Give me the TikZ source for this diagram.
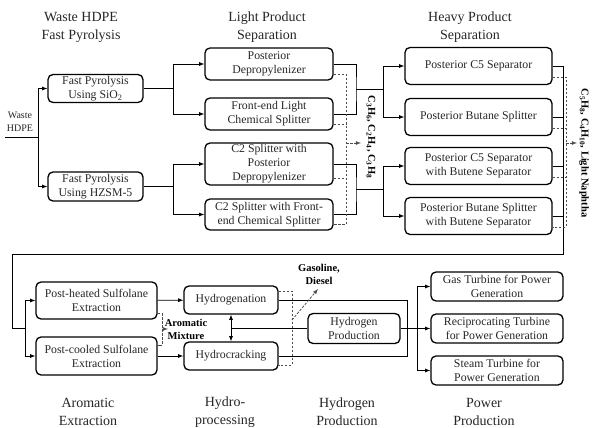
\documentclass[tikz,border=0pt]{standalone}
\usepackage{fontspec}
\setmainfont{Liberation Serif}
\usepackage[]{xcolor}

\begin{document}
\begin{tikzpicture}[
            x=1pt, y=-1pt,
            unit/.style={rectangle, draw, line width=1.3pt, rounded corners=5pt, inner sep=0pt, align=center, text=black!85, font=\fontsize{11.8}{14}\selectfont},
            stage/.style={align=center, text=black!85, font=\fontsize{14}{18}\selectfont},
            tag/.style={align=center, font=\fontsize{10.5}{13}\selectfont\bfseries},
            flow/.style={line width=0.8pt},
            arrow/.style={-latex, line width=0.8pt},
            gas/.style={dash pattern=on 2.5pt off 1.5pt, line width=0.8pt, black!70},
            gasarrow/.style={gas, -latex}
        ]
            \useasboundingbox (0,0) rectangle (592,428);

            % stage titles
            \node[stage] (t1) at (81,27) {Waste HDPE\\Fast Pyrolysis};
            \node[stage] (t2) at (267,27) {Light Product\\Separation};
            \node[stage] (t3) at (470,27) {Heavy Product\\Separation};
            \node[stage] (t4) at (88,412) {Aromatic\\Extraction};
            \node[stage] (t5) at (225,412) {Hydro-\\processing};
            \node[stage] (t6) at (347,412) {Hydrogen\\Production};
            \node[stage] (t7) at (484,412) {Power\\Production};

            % pyrolysis
            \node[align=center, text=black!85, font=\fontsize{10}{13}\selectfont] (feedlbl) at (20,122) {Waste\\HDPE};
            \node[unit, minimum width=95pt, minimum height=28pt] (sio) at (95.5,88.5) {Fast Pyrolysis\\Using SiO\textsubscript{2}};
            \node[unit, minimum width=95pt, minimum height=29pt] (hzsm) at (95.5,186.5) {Fast Pyrolysis\\Using HZSM-5};

            % light product separation
            \node[unit, minimum width=128pt, minimum height=32pt] (dep) at (269,64) {Posterior\\Depropylenizer};
            \node[unit, minimum width=128pt, minimum height=32pt] (fels) at (269,114) {Front-end Light\\Chemical Splitter};
            \node[unit, minimum width=128pt, minimum height=42pt] (cpd) at (269,164) {C2 Splitter with\\Posterior\\Depropylenizer};
            \node[unit, minimum width=128pt, minimum height=31pt] (cfe) at (269,214.5) {C2 Splitter with Front-\\end Chemical Splitter};

            % heavy product separation
            \node[unit, minimum width=147pt, minimum height=37pt] (pc) at (478.5,66) {Posterior C5 Separator};
            \node[unit, minimum width=147pt, minimum height=37pt] (pb) at (478.5,117) {Posterior Butane Splitter};
            \node[unit, minimum width=147pt, minimum height=37pt] (pcb) at (478.5,166) {Posterior C5 Separator\\with Butene Separator};
            \node[unit, minimum width=147pt, minimum height=37pt] (pbb) at (478.5,216) {Posterior Butane Splitter\\with Butene Separator};

            % aromatic extraction
            \node[unit, minimum width=121pt, minimum height=37pt] (phs) at (96.5,300.5) {Post-heated Sulfolane\\Extraction};
            \node[unit, minimum width=121pt, minimum height=38pt] (pcs) at (96.5,356) {Post-cooled Sulfolane\\Extraction};

            % hydroprocessing
            \node[unit, minimum width=94pt, minimum height=28pt] (hgn) at (231,300) {Hydrogenation};
            \node[unit, minimum width=94pt, minimum height=28pt] (hck) at (231,356) {Hydrocracking};

            % hydrogen and power
            \node[unit, minimum width=92pt, minimum height=30pt] (h2p) at (354,328.5) {Hydrogen\\Production};
            \node[unit, minimum width=132pt, minimum height=29pt] (gt) at (497,286.5) {Gas Turbine for Power\\Generation};
            \node[unit, minimum width=132pt, minimum height=29pt] (rt) at (497,328.5) {Reciprocating Turbine\\for Power Generation};
            \node[unit, minimum width=132pt, minimum height=29pt] (st) at (497,370.5) {Steam Turbine for\\Power Generation};

            % junctions
            \coordinate (feed) at (5,137);
            \coordinate (fj) at (38,137);
            \coordinate (pj1) at (173,88.5);
            \coordinate (pj2) at (173,186.5);
            \coordinate (lm1) at (356,89);
            \coordinate (lj1) at (383,89);
            \coordinate (lm2) at (356,189.5);
            \coordinate (lj2) at (383,189.5);
            \coordinate (lgtop) at (346,74);
            \coordinate (lgbot) at (346,224.5);
            \coordinate (lgas) at (346,143);
            \coordinate (hr) at (563,254);
            \coordinate (hl) at (12,254);
            \coordinate (aj) at (25,328);
            \coordinate (hgbot) at (566,227);
            \coordinate (hgas) at (566,143);
            \coordinate (amt) at (162,313.5);
            \coordinate (amb) at (162,345);
            \coordinate (amm) at (162,329);
            \coordinate (hmid) at (231,328.5);
            \coordinate (ot) at (407,300);
            \coordinate (ob) at (407,356);
            \coordinate (dt) at (292,291);
            \coordinate (db) at (292,365);
            \coordinate (gd1) at (292,320);
            \coordinate (gd2) at (318,289);
            \coordinate (pwj) at (417,328.5);

            % feed to pyrolysis
            \draw[flow] (feed) -- (fj);
            \draw[arrow] (fj) |- (sio.west);
            \draw[arrow] (fj) |- (hzsm.west);

            % pyrolysis to light product separation
            \draw[flow] (sio) -- (pj1);
            \draw[arrow] (pj1) |- (dep.west);
            \draw[arrow] (pj1) |- (fels.west);
            \draw[flow] (hzsm) -- (pj2);
            \draw[arrow] (pj2) |- (cpd.west);
            \draw[arrow] (pj2) |- (cfe.west);

            % light to heavy product separation
            \draw[flow] (dep.east) -| (lm1) |- (fels.east);
            \draw[flow] (lm1) -- (lj1);
            \draw[arrow] (lj1) |- (pc.west);
            \draw[arrow] (lj1) |- (pb.west);
            \draw[flow] (cpd.east) -| (lm2) |- (cfe.east);
            \draw[flow] (lm2) -- (lj2);
            \draw[arrow] (lj2) |- (pcb.west);
            \draw[arrow] (lj2) |- (pbb.west);

            % light gases
            \draw[gas] ([yshift=-10pt]dep.east) -| (lgbot) -- ([yshift=-10pt]cfe.east);
            \draw[gas] ([yshift=-10pt]fels.east) -- ++(13,0);
            \draw[gas] ([yshift=-14pt]cpd.east) -- ++(13,0);
            \draw[gasarrow] (lgas) -- ++(15,0);
            \node[tag, rotate=-90] (lgaslbl) at (371,137) {C\textsubscript{3}H\textsubscript{6}, C\textsubscript{2}H\textsubscript{4}, C\textsubscript{3}H\textsubscript{8}};

            % heavy products back to aromatic extraction
            \draw[flow] (pc.east) -| (hr) -- (hl) |- (aj);
            \draw[flow] (pb.east) -- ++(11,0);
            \draw[flow] (pcb.east) -- ++(11,0);
            \draw[flow] (pbb.east) -- ++(11,0);
            \draw[arrow] (aj) |- (phs.west);
            \draw[arrow] (aj) |- (pcs.west);

            % heavy gases
            \draw[gas] ([yshift=-11pt]pc.east) -| (hgbot) -- ([yshift=-11pt]pbb.east);
            \draw[gas] ([yshift=-11pt]pb.east) -- ++(14,0);
            \draw[gas] ([yshift=-11pt]pcb.east) -- ++(14,0);
            \draw[gasarrow] (hgas) -- ++(11,0);
            \node[tag, rotate=-90] (hgaslbl) at (584,153) {C\textsubscript{5}H\textsubscript{8}, C\textsubscript{4}H\textsubscript{10}, Light Naphtha};

            % aromatic extraction to hydroprocessing
            \draw[arrow] (phs) -- (hgn);
            \draw[arrow] (pcs) -- (hck);
            \draw[gas] ([yshift=-13pt]phs.east) -- (amt) -- (amb) -- ([yshift=11pt]pcs.east);
            \draw[gasarrow] (amm) -- ++(6,0);
            \node[tag] (amlbl) at (186,329) {Aromatic\\Mixture};

            % hydroprocessing to hydrogen production
            \draw[latex-latex, line width=0.8pt] (hgn.south) -- (hck.north);
            \draw[flow] (hmid) -- (h2p.west);
            \draw[flow] (hgn.east) -- (ot) -- (ob) -- (hck.east);
            \draw[gas] ([yshift=9pt]hgn.east) -- (dt) -- (db) -- ([yshift=-9pt]hck.east);
            \draw[gasarrow] (gd1) -- (gd2);
            \node[tag] (gdlbl) at (319,274) {Gasoline,\\Diesel};

            % hydrogen production to power production
            \draw[flow] (h2p.east) -- (pwj);
            \draw[arrow] (pwj) |- (gt.west);
            \draw[arrow] (pwj) -- (rt.west);
            \draw[arrow] (pwj) |- (st.west);
        \end{tikzpicture}
\end{document}
